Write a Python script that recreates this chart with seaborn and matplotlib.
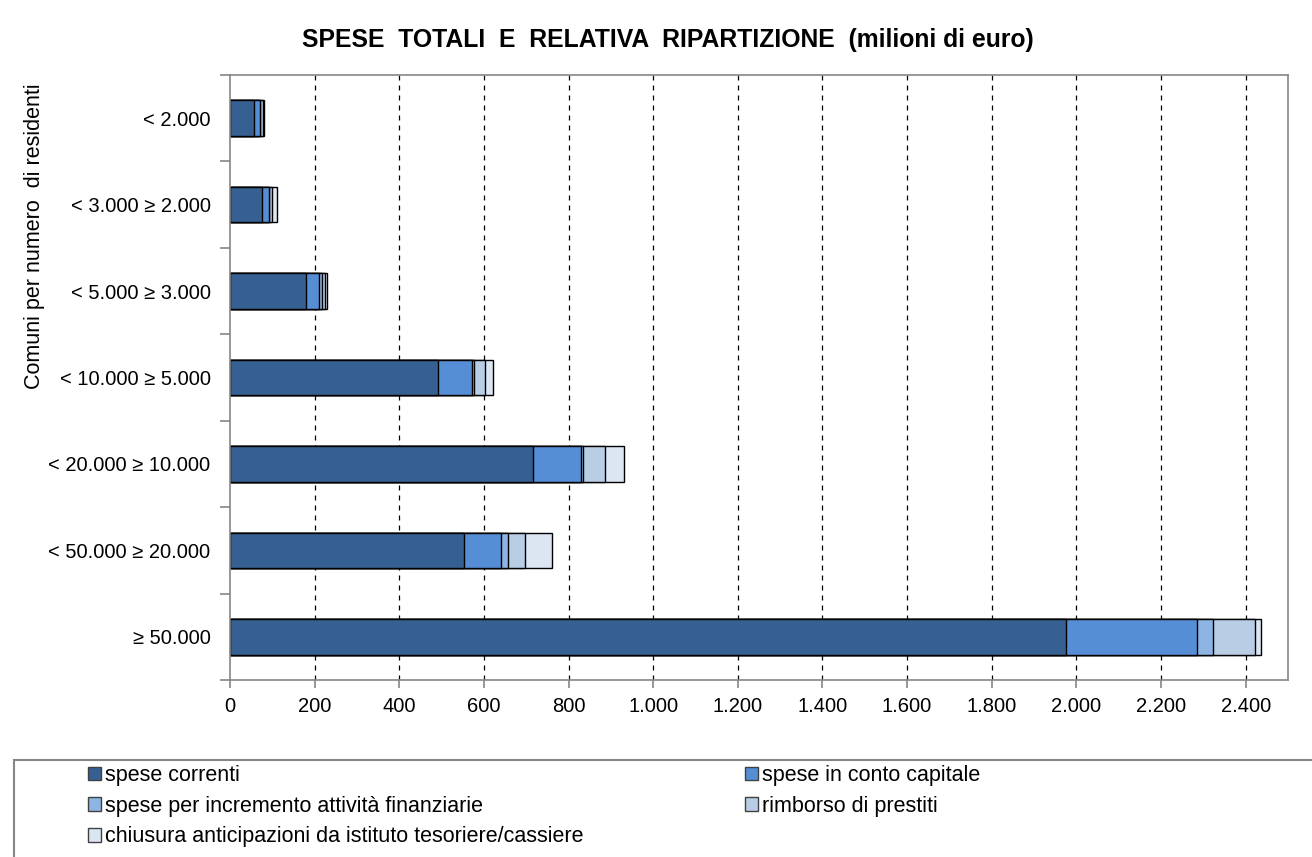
import numpy as np
import pandas as pd
import seaborn as sns
import matplotlib.pyplot as plt
from matplotlib.patches import Patch, Rectangle

classi = ["< 2.000", "< 3.000 ≥ 2.000", "< 5.000 ≥ 3.000", "< 10.000 ≥ 5.000",
          "< 20.000 ≥ 10.000", "< 50.000 ≥ 20.000", "≥ 50.000"]

spese_correnti = [56, 75, 179, 491, 716, 552, 1976]
spese_capitale = [14, 16, 32, 82, 113, 88, 308]
spese_finanziarie = [1, 1, 6, 4, 6, 18, 39]
rimborso_prestiti = [7, 8, 8, 25, 50, 38, 98]
chiusura_anticipazioni = [3, 12, 4, 20, 46, 64, 16]

voci = ["spese correnti", "spese in conto capitale",
        "spese per incremento attività finanziarie", "rimborso di prestiti",
        "chiusura anticipazioni da istituto tesoriere/cassiere"]
colori = ["#376092", "#558ed5", "#8eb4e3", "#b9cde5", "#dce6f2"]
x_ticks = list(range(0, 2401, 200))

sns.set_style("white")
plt.rcParams["font.family"] = ["Liberation Sans", "DejaVu Sans"]
plt.rcParams["text.color"] = "black"
plt.rcParams["xtick.color"] = "black"
plt.rcParams["ytick.color"] = "black"

df = pd.DataFrame({
    "classe": classi,
    voci[0]: spese_correnti,
    voci[1]: spese_capitale,
    voci[2]: spese_finanziarie,
    voci[3]: rimborso_prestiti,
    voci[4]: chiusura_anticipazioni,
})
cum = df[voci].cumsum(axis=1)
cum["classe"] = classi

fig = plt.figure(figsize=(13.12, 8.57), dpi=100)
ax = fig.add_axes([0.1753, 0.2065, 0.8064, 0.706])

# stacked bars: draw cumulative totals from the largest down
for voce, col in reversed(list(zip(voci, colori))):
    sns.barplot(data=cum, x=voce, y="classe", orient="h", color=col,
                width=0.41, edgecolor="black", linewidth=1.0, ax=ax,
                saturation=1)

ax.set_xlim(0, 2500)
ax.set_ylim(6.5, -0.5)
ax.set_xticks(x_ticks)
ax.set_xticklabels([f"{v:,}".replace(",", ".") for v in x_ticks], fontsize=14.5)
ax.set_yticks(range(len(classi)))
ax.set_yticklabels(classi, fontsize=14.5)
ax.set_yticks(np.arange(-0.5, len(classi), 1), minor=True)
ax.tick_params(axis="y", which="both", left=True)
ax.tick_params(axis="x", which="both", bottom=True)
ax.tick_params(axis="y", which="major", length=0, pad=14)
ax.tick_params(axis="y", which="minor", length=7, color="#868686", width=1.2)
ax.tick_params(axis="x", length=6, color="#868686", width=1.2, pad=6)
ax.set_xlabel("")
ax.set_ylabel("")

for v in x_ticks[1:]:
    ax.axvline(v, color="black", linestyle=(0, (4, 4)), linewidth=0.9, zorder=0)

for s in ax.spines.values():
    s.set_visible(True)
    s.set_color("#868686")
    s.set_linewidth(1.2)

fig.text(0.509, 0.953, "SPESE  TOTALI  E  RELATIVA  RIPARTIZIONE  (milioni di euro)",
         ha="center", va="center", fontsize=17.8, fontweight="bold")
fig.text(0.026, 0.724, "Comuni per numero  di residenti", rotation=90,
         ha="center", va="center", fontsize=15.5)

# legend frame
fig.add_artist(Rectangle((14 / 1312, -0.05), 1.2, 0.05 + 1 - 760 / 857,
                         transform=fig.transFigure, fill=False,
                         edgecolor="#868686", linewidth=1.5))

handles = [Patch(facecolor=c, edgecolor="#404040", linewidth=1.0) for c in colori]
leg_kw = dict(frameon=False, fontsize=15.5, handlelength=0.6, handleheight=0.6,
              handletextpad=0.2, labelspacing=0.45, borderaxespad=0, borderpad=0)
fig.legend([handles[0], handles[2], handles[4]], [voci[0], voci[2], voci[4]],
           loc="upper left", bbox_to_anchor=(88 / 1312, 1 - 765 / 857), **leg_kw)
fig.legend([handles[1], handles[3]], [voci[1], voci[3]],
           loc="upper left", bbox_to_anchor=(745 / 1312, 1 - 765 / 857), **leg_kw)

fig.savefig("out.png", dpi=100)
